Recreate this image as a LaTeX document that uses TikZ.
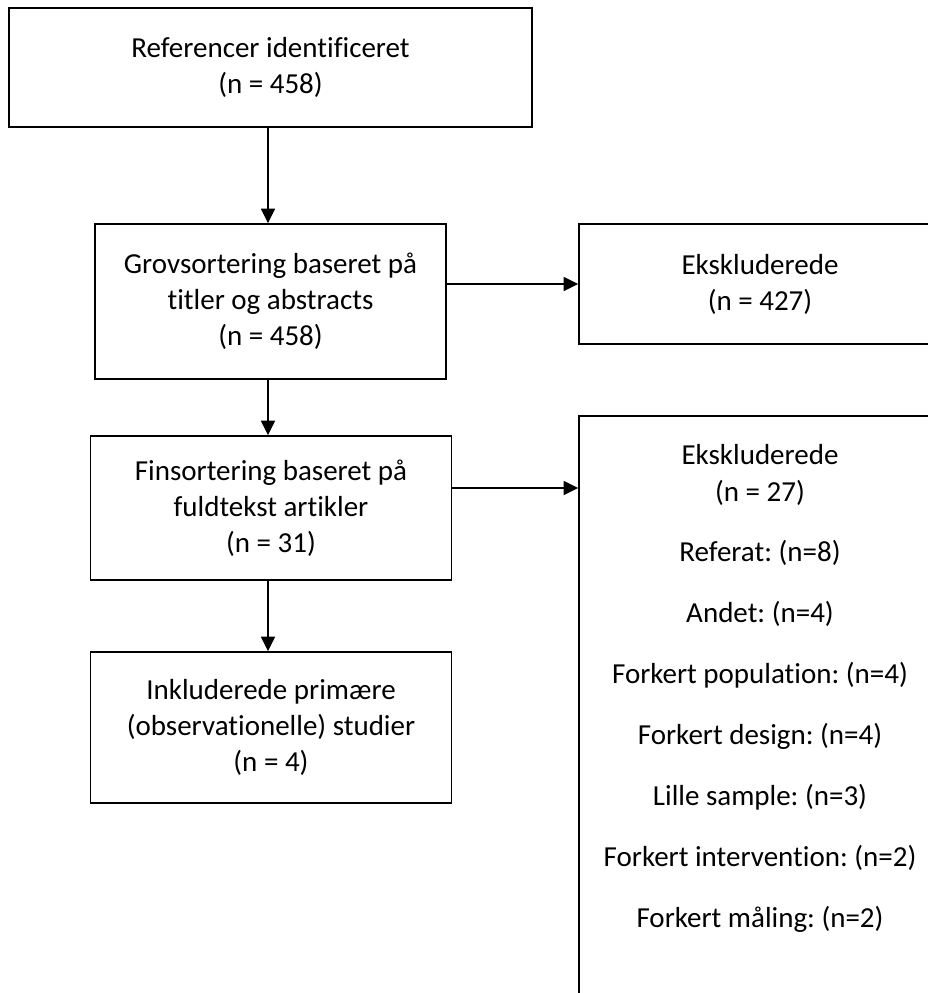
\documentclass[tikz,border=0pt]{standalone}
\usepackage{fontspec}
\setmainfont{Carlito}[Ligatures={NoCommon}]
\usetikzlibrary{arrows.meta}
\frenchspacing
\newcommand{\flowfont}{\fontsize{21.75pt}{27pt}\selectfont}
\begin{document}
\begin{tikzpicture}[x=0.75pt,y=-0.75pt,
  box/.style={draw, line width=1.1pt, align=center, inner sep=0pt, font=\flowfont},
  listline/.style={inner sep=0pt, anchor=base, font=\flowfont},
  flow/.style={line width=1.1pt, -{Triangle[length=11pt,width=10.5pt]}}]
\useasboundingbox (0,0) rectangle (928,993);

% main column
\node[box, minimum width=392.25pt, minimum height=89.25pt] (ident) at (270.5,67.5)
  {Referencer identificeret\\(n = 458)};
\node[box, minimum width=263.25pt, minimum height=116.25pt] (grov) at (270.5,301.5)
  {Grovsortering baseret på\\titler og abstracts\\(n = 458)};
\node[box, minimum width=270.75pt, minimum height=108pt] (fin) at (271,508)
  {Finsortering baseret på\\fuldtekst artikler\\(n = 31)};
\node[box, minimum width=270.75pt, minimum height=113.25pt] (inkl) at (271,727.5)
  {Inkluderede primære\\(observationelle) studier\\(n = 4)};

% exclusion boxes (run past the right edge of the page)
\node[box, minimum width=271.5pt, minimum height=90pt] (exA) at (760,284)
  {Ekskluderede\\(n = 427)};
\node[box, minimum width=271.5pt, minimum height=445.5pt] (exB) at (760,713) {};

% reasons listed in the second exclusion box
\node[listline] (b1) at (760,464.5) {Ekskluderede};
\node[listline] (b2) at (760,501.5) {(n = 27)};
\node[listline] (b3) at (760,561.5) {Referat: (n=8)};
\node[listline] (b4) at (760,622.5) {Andet: (n=4)};
\node[listline] (b5) at (760,683.5) {Forkert population: (n=4)};
\node[listline] (b6) at (760,744.5) {Forkert design: (n=4)};
\node[listline] (b7) at (760,805.5) {Lille sample: (n=3)};
\node[listline] (b8) at (760,866.5) {Forkert intervention: (n=2)};
\node[listline] (b9) at (760,927.5) {Forkert måling: (n=2)};

% connector guides
\coordinate (col) at (268,0);
\coordinate (rowA) at (0,284);
\coordinate (rowB) at (0,488);

\draw[flow] (ident.south -| col) -- (grov.north -| col);
\draw[flow] (grov.south -| col) -- (fin.north -| col);
\draw[flow] (fin.south -| col) -- (inkl.north -| col);
\draw[flow] (grov.east |- rowA) -- (exA.west |- rowA);
\draw[flow] (fin.east |- rowB) -- (exB.west |- rowB);
\end{tikzpicture}
\end{document}
